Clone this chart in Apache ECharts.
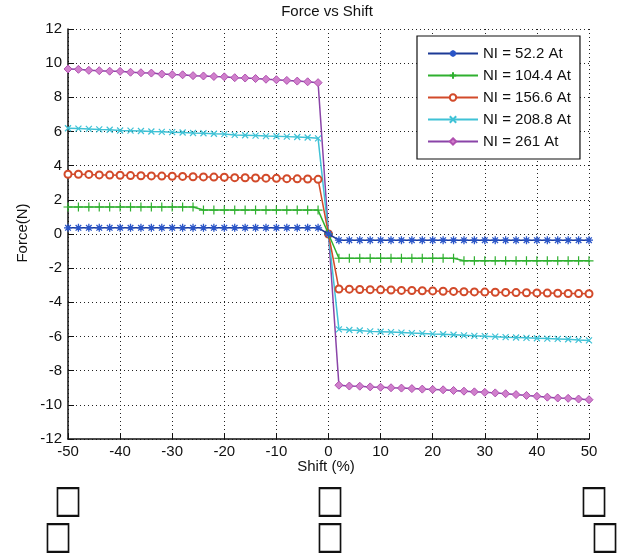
<!DOCTYPE html>
<html>
<head>
<meta charset="utf-8">
<script src="https://cdn.jsdelivr.net/npm/echarts@6/dist/echarts.min.js"></script>
<style>
html,body{margin:0;padding:0;background:#fff;}
#chart{width:634px;height:558px;}
</style>
</head>
<body>
<div id="chart"></div>
<script>
var shift = [-50,-48,-46,-44,-42,-40,-38,-36,-34,-32,-30,-28,-26,-24,-22,-20,-18,-16,-14,-12,-10,-8,-6,-4,-2,0,2,4,6,8,10,12,14,16,18,20,22,24,26,28,30,32,34,36,38,40,42,44,46,48,50];

var ni52 = [0.36,0.36,0.36,0.36,0.36,0.36,0.36,0.36,0.36,0.36,0.36,0.36,0.36,0.36,0.36,0.36,0.36,0.36,0.36,0.36,0.36,0.36,0.36,0.36,0.36,0,
  -0.36,-0.36,-0.36,-0.36,-0.36,-0.36,-0.36,-0.36,-0.36,-0.36,-0.36,-0.36,-0.36,-0.36,-0.36,-0.36,-0.36,-0.36,-0.36,-0.36,-0.36,-0.36,-0.36,-0.36,-0.36];
var ni104 = [1.58,1.58,1.58,1.58,1.58,1.58,1.58,1.58,1.58,1.58,1.58,1.58,1.58,1.4,1.4,1.4,1.4,1.4,1.4,1.4,1.4,1.4,1.4,1.4,1.4,0,
  -1.42,-1.42,-1.42,-1.42,-1.42,-1.42,-1.42,-1.42,-1.42,-1.42,-1.42,-1.42,-1.57,-1.57,-1.57,-1.57,-1.57,-1.57,-1.57,-1.57,-1.57,-1.57,-1.57,-1.57,-1.57];
var ni156 = [3.5,3.5,3.49,3.46,3.45,3.44,3.42,3.41,3.4,3.39,3.38,3.37,3.35,3.34,3.33,3.32,3.3,3.29,3.28,3.27,3.26,3.24,3.23,3.22,3.2,0,
  -3.22,-3.23,-3.25,-3.26,-3.27,-3.28,-3.3,-3.31,-3.32,-3.33,-3.35,-3.36,-3.38,-3.39,-3.4,-3.41,-3.42,-3.43,-3.44,-3.45,-3.46,-3.47,-3.48,-3.49,-3.5];
var ni208 = [6.19,6.17,6.15,6.12,6.1,6.06,6.05,6.03,6.0,5.98,5.96,5.94,5.91,5.9,5.87,5.85,5.8,5.78,5.76,5.73,5.72,5.7,5.68,5.65,5.6,0,
  -5.58,-5.62,-5.65,-5.7,-5.72,-5.74,-5.77,-5.8,-5.82,-5.85,-5.87,-5.9,-5.93,-5.96,-5.98,-6.01,-6.04,-6.06,-6.08,-6.1,-6.12,-6.14,-6.16,-6.2,-6.23];
var ni261 = [9.66,9.64,9.58,9.56,9.53,9.52,9.47,9.44,9.42,9.36,9.33,9.32,9.27,9.25,9.22,9.2,9.15,9.13,9.1,9.06,9.03,8.99,8.95,8.91,8.86,0,
  -8.85,-8.9,-8.91,-8.95,-8.97,-9.0,-9.02,-9.05,-9.08,-9.1,-9.12,-9.16,-9.2,-9.24,-9.27,-9.3,-9.35,-9.4,-9.45,-9.5,-9.55,-9.6,-9.62,-9.66,-9.7];

var seriesNames = ['NI = 52.2 At','NI = 104.4 At','NI = 156.6 At','NI = 208.8 At','NI = 261 At'];
var xTicks = [-50,-40,-30,-20,-10,0,10,20,30,40,50];
var yTicks = [-12,-10,-8,-6,-4,-2,0,2,4,6,8,10,12];
var titleText = 'Force vs Shift';
var xName = 'Shift (%)';
var yName = 'Force(N)';
var tofuRow1 = ['□','□','□'];
var tofuRow2 = ['□','□','□'];

var FONT = '"Liberation Sans", Arial, sans-serif';
function pairs(ys){ return shift.map(function(x,i){ return [x, ys[i]]; }); }

var STAR = 'path://M5,0L5,10M0,5L10,5M1.5,1.5L8.5,8.5M8.5,1.5L1.5,8.5';
var PLUS = 'path://M5,0L5,10M1,5L9,5';
var XS = 'path://M0,0L10,10M10,0L0,10';

var chart = echarts.init(document.getElementById('chart'), null, {renderer:'canvas'});

function mk(name, data, lineColor, symbol, size, itemStyle, z){
  return {
    name: name, type: 'line', data: pairs(data),
    symbol: symbol, symbolSize: size, showAllSymbol: true,
    lineStyle: {color: lineColor, width: 1.5},
    itemStyle: itemStyle, z: z,
    animation: false, emphasis: {disabled: true}
  };
}

function tofu(ch, x, y){
  return {type: 'text', x: x, y: y, scaleY: 1.3,
    style: {text: ch, font: '30px "DejaVu Sans"', fill: '#111', align: 'center', verticalAlign: 'middle'}};
}

var option = {
  backgroundColor: '#fff',
  animation: false,
  grid: {left: 68, right: 45, top: 29, bottom: 119, containLabel: false},
  xAxis: {
    type: 'value', min: -50, max: 50, interval: 10,
    axisLine: {show: true, onZero: false, lineStyle: {color: '#111', width: 1.5}},
    axisTick: {show: true, inside: true, length: 6, lineStyle: {color: '#111'}},
    axisLabel: {fontFamily: FONT, fontSize: 15, color: '#111', margin: 5,
      formatter: function(v){ return xTicks.indexOf(v) >= 0 ? String(v) : ''; }},
    splitLine: {show: true, lineStyle: {color: '#222', type: [1,3], width: 1}}
  },
  yAxis: {
    type: 'value', min: -12, max: 12, interval: 2,
    axisLine: {show: true, onZero: false, lineStyle: {color: '#111', width: 1.5}},
    axisTick: {show: true, inside: true, length: 6, lineStyle: {color: '#111'}},
    axisLabel: {fontFamily: FONT, fontSize: 15, color: '#111', margin: 6,
      formatter: function(v){ return yTicks.indexOf(v) >= 0 ? String(v) : ''; }},
    splitLine: {show: true, lineStyle: {color: '#222', type: [1,3], width: 1}}
  },
  legend: {
    orient: 'vertical', left: 417, top: 36,
    data: seriesNames,
    backgroundColor: '#fff', borderColor: '#111', borderWidth: 1.2,
    padding: [10, 9, 10, 10],
    itemWidth: 50, itemHeight: 8, itemGap: 7,
    textStyle: {fontFamily: FONT, fontSize: 15, color: '#111'},
    selectedMode: false
  },
  graphic: [
    {type: 'text', x: 327, y: 12, style: {text: titleText, font: '15px ' + FONT, fill: '#111', align: 'center', verticalAlign: 'middle'}},
    {type: 'text', x: 326, y: 467, style: {text: xName, font: '15px ' + FONT, fill: '#111', align: 'center', verticalAlign: 'middle'}},
    {type: 'text', x: 23, y: 233, rotation: Math.PI/2, style: {text: yName, font: '15px ' + FONT, fill: '#111', align: 'center', verticalAlign: 'middle'}},
    tofu(tofuRow1[0], 68, 502), tofu(tofuRow1[1], 330, 502), tofu(tofuRow1[2], 594, 502),
    tofu(tofuRow2[0], 58, 538), tofu(tofuRow2[1], 330, 538), tofu(tofuRow2[2], 605, 538)
  ],
  series: [
    mk(seriesNames[0], ni52, '#1c3a96', STAR, 8, {color: '#2a55c8', borderColor: '#2a55c8', borderWidth: 1.3}, 5),
    mk(seriesNames[1], ni104, '#2fb02f', PLUS, 9, {color: '#2fb02f', borderColor: '#2fb02f', borderWidth: 1.2}, 4),
    mk(seriesNames[2], ni156, '#d24a2a', 'emptyCircle', 7, {color: '#d24a2a', borderColor: '#c8442a', borderWidth: 1.2}, 3),
    mk(seriesNames[3], ni208, '#3fc2d6', XS, 6, {color: '#3fc2d6', borderColor: '#3fc2d6', borderWidth: 1.2}, 2),
    mk(seriesNames[4], ni261, '#8a44a8', 'diamond', 8, {color: '#d080cc', borderColor: '#b050b0', borderWidth: 1}, 1)
  ]
};
chart.setOption(option);
</script>
</body>
</html>
